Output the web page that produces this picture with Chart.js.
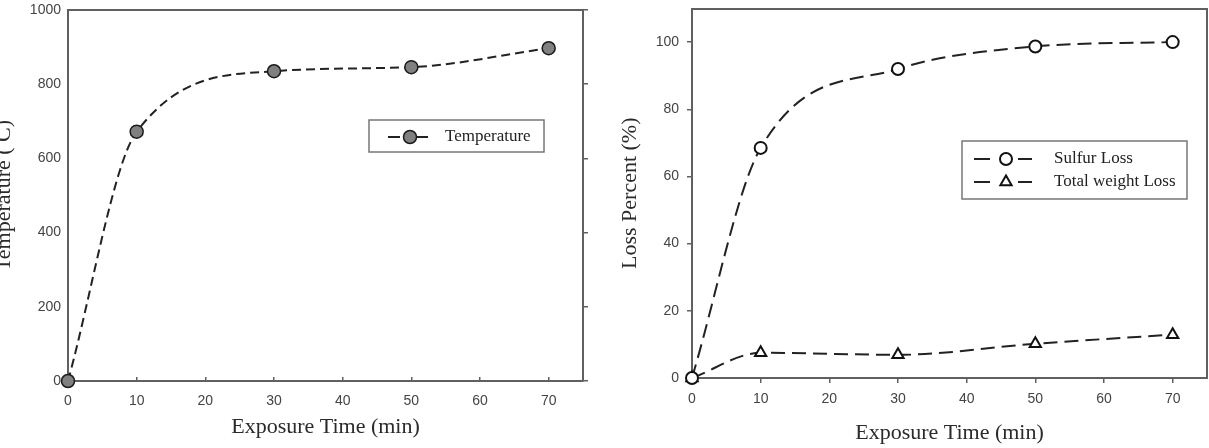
<!DOCTYPE html>
<html>
<head>
<meta charset="utf-8">
<script src="https://cdn.jsdelivr.net/npm/chart.js@4/dist/chart.umd.min.js"></script>
<style>
  html, body { margin: 0; padding: 0; background: #fff; }
  body { width: 1209px; height: 448px; position: relative; overflow: hidden; }
  #wrapLeft { position: absolute; left: -12px; top: 0; width: 612px; height: 448px; }
  #wrapRight { position: absolute; left: 600px; top: 0; width: 624px; height: 448px; }
</style>
</head>
<body>
<div id="wrapLeft"><canvas id="tempChart"></canvas></div>
<div id="wrapRight"><canvas id="lossChart"></canvas></div>
<script>
// values
const times = [0, 10, 30, 50, 70];
const temperature = [0, 672, 835, 846, 897];
const sulfurLoss = [0, 68.5, 92, 98.7, 100];
const weightLoss = [0, 7.5, 6.9, 10.2, 12.9];

const frameColor = '#606060';
const lineColor = '#222';
const serif = '"Liberation Serif", "Times New Roman", serif';
const sans = '"Liberation Sans", Arial, sans-serif';

const toPoints = ys => times.map((t, i) => ({ x: t, y: ys[i] }));

// force a scale to an exact size so the plot areas land where the figure has them
const fixSize = (prop, size) => scale => {
  scale[prop] = size;
  scale.paddingTop = scale.paddingBottom = scale.paddingLeft = scale.paddingRight = 0;
};

// boxed legend drawn inside the plot, like the original figure
const boxLegend = {
  id: 'boxLegend',
  afterDraw(chart, args, opts) {
    const ctx = chart.ctx;
    ctx.save();
    ctx.strokeStyle = '#777';
    ctx.lineWidth = 1.5;
    ctx.strokeRect(opts.x, opts.y, opts.w, opts.h);
    ctx.font = '17px ' + serif;
    ctx.textBaseline = 'middle';
    chart.data.datasets.forEach((ds, i) => {
      const y = opts.rows[i];
      ctx.strokeStyle = lineColor;
      ctx.lineWidth = 2;
      ctx.setLineDash([]);
      ctx.beginPath();
      ctx.moveTo(opts.seg[0], y); ctx.lineTo(opts.seg[1], y);
      ctx.moveTo(opts.seg[3], y); ctx.lineTo(opts.seg[4], y);
      ctx.stroke();
      ctx.fillStyle = ds.pointBackgroundColor;
      ctx.strokeStyle = ds.pointBorderColor;
      ctx.lineWidth = ds.pointBorderWidth;
      Chart.helpers.drawPoint(ctx, {
        pointStyle: ds.pointStyle, radius: ds.pointRadius, rotation: 0, borderWidth: ds.pointBorderWidth
      }, opts.seg[2], y);
      ctx.fillStyle = '#222';
      ctx.fillText(ds.label, opts.textX, y);
    });
    ctx.restore();
  }
};

const tickFont = { family: sans, size: 14 };
const titleFont = { family: serif, size: 22 };
const plainNumber = v => String(v);

new Chart(document.getElementById('tempChart'), {
  type: 'line',
  data: {
    datasets: [{
      label: 'Temperature',
      data: toPoints(temperature),
      borderColor: lineColor,
      borderWidth: 2,
      borderDash: [9, 5],
      cubicInterpolationMode: 'monotone',
      pointStyle: 'circle',
      pointRadius: 6.5,
      pointBackgroundColor: '#808080',
      pointBorderColor: '#1a1a1a',
      pointBorderWidth: 1.5,
      clip: false
    }]
  },
  options: {
    responsive: true,
    maintainAspectRatio: false,
    animation: false,
    layout: { padding: 0 },
    plugins: {
      legend: { display: false },
      tooltip: { enabled: false },
      boxLegend: { x: 381, y: 120, w: 175, h: 32, rows: [137], seg: [400, 412, 422, 429, 440], textX: 457 }
    },
    scales: {
      x: {
        type: 'linear', position: 'bottom', min: 0, max: 75,
        afterFit: fixSize('height', 67),
        border: { color: frameColor, width: 2 },
        grid: { drawOnChartArea: false, drawTicks: true, tickLength: -4, color: frameColor, lineWidth: 1.5 },
        ticks: { stepSize: 10, includeBounds: false, padding: 16, color: '#444', font: tickFont, maxRotation: 0, callback: plainNumber },
        title: { display: true, text: 'Exposure Time (min)', color: '#2a2a2a', font: titleFont, padding: { top: 0, bottom: 8 } }
      },
      x2: {
        type: 'linear', position: 'top', min: 0, max: 75,
        afterFit: fixSize('height', 10),
        border: { color: frameColor, width: 2 },
        grid: { display: false },
        ticks: { display: false }
      },
      y: {
        type: 'linear', position: 'left', min: 0, max: 1000,
        afterFit: fixSize('width', 80),
        border: { color: frameColor, width: 2 },
        grid: { drawOnChartArea: false, drawTicks: false },
        ticks: { stepSize: 200, padding: 7, color: '#444', font: tickFont, callback: plainNumber },
        title: { display: true, text: 'Temperature ( C)', color: '#2a2a2a', font: titleFont, padding: { top: 3, bottom: 0 } }
      },
      y2: {
        type: 'linear', position: 'right', min: 0, max: 1000,
        afterFit: fixSize('width', 17),
        border: { color: frameColor, width: 2 },
        grid: { drawOnChartArea: false, drawTicks: true, tickLength: 5, color: frameColor, lineWidth: 1.5 },
        ticks: { stepSize: 200, display: false }
      }
    }
  },
  plugins: [boxLegend]
});

new Chart(document.getElementById('lossChart'), {
  type: 'line',
  data: {
    datasets: [{
      label: 'Sulfur Loss',
      data: toPoints(sulfurLoss),
      borderColor: lineColor,
      borderWidth: 2,
      borderDash: [14, 7],
      cubicInterpolationMode: 'monotone',
      pointStyle: 'circle',
      pointRadius: 6,
      pointBackgroundColor: '#fff',
      pointBorderColor: '#111',
      pointBorderWidth: 2,
      clip: false
    }, {
      label: 'Total weight Loss',
      data: toPoints(weightLoss),
      borderColor: lineColor,
      borderWidth: 2,
      borderDash: [14, 7],
      cubicInterpolationMode: 'monotone',
      pointStyle: 'triangle',
      pointRadius: 6.5,
      pointBackgroundColor: '#fff',
      pointBorderColor: '#111',
      pointBorderWidth: 2,
      clip: false
    }]
  },
  options: {
    responsive: true,
    maintainAspectRatio: false,
    animation: false,
    layout: { padding: 0 },
    plugins: {
      legend: { display: false },
      tooltip: { enabled: false },
      boxLegend: { x: 362, y: 141, w: 225, h: 58, rows: [159, 182], seg: [374, 390, 406, 418, 432], textX: 454 }
    },
    scales: {
      x: {
        type: 'linear', position: 'bottom', min: 0, max: 75,
        afterFit: fixSize('height', 70),
        border: { color: frameColor, width: 2 },
        grid: { drawOnChartArea: false, drawTicks: true, tickLength: 5, color: frameColor, lineWidth: 1.5 },
        ticks: { stepSize: 10, includeBounds: false, padding: 8, color: '#444', font: tickFont, maxRotation: 0, callback: plainNumber },
        title: { display: true, text: 'Exposure Time (min)', color: '#2a2a2a', font: titleFont, padding: { top: 0, bottom: 2 } }
      },
      x2: {
        type: 'linear', position: 'top', min: 0, max: 75,
        afterFit: fixSize('height', 7),
        border: { color: frameColor, width: 2 },
        grid: { display: false },
        ticks: { display: false }
      },
      y: {
        type: 'linear', position: 'left', min: 0, max: 110,
        afterFit: fixSize('width', 92),
        border: { color: frameColor, width: 2 },
        grid: { drawOnChartArea: false, drawTicks: true, tickLength: 5, color: frameColor, lineWidth: 1.5 },
        ticks: { stepSize: 20, includeBounds: false, padding: 8, color: '#444', font: tickFont, callback: plainNumber },
        title: { display: true, text: 'Loss Percent (%)', color: '#2a2a2a', font: titleFont, padding: { top: 17, bottom: 0 } }
      },
      y2: {
        type: 'linear', position: 'right', min: 0, max: 110,
        afterFit: fixSize('width', 17),
        border: { color: frameColor, width: 2 },
        grid: { display: false },
        ticks: { display: false }
      }
    }
  },
  plugins: [boxLegend]
});
</script>
</body>
</html>
